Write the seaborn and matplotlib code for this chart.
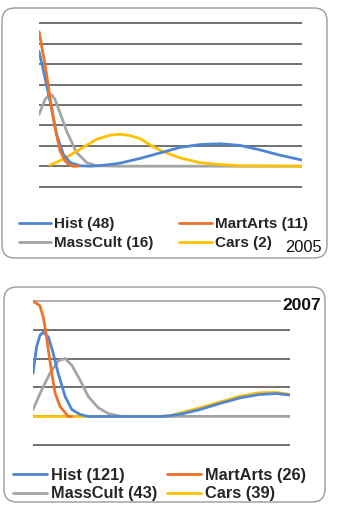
import pandas as pd
import matplotlib
matplotlib.use("Agg")
import matplotlib.pyplot as plt
from matplotlib.patches import FancyBboxPatch
import seaborn as sns

sns.set_style("white")
plt.rcParams["font.family"] = ["Liberation Sans", "DejaVu Sans"]

# -------------------------
# Data (x = position along the plot, 0..100)
# -------------------------
names = ["Hist", "MartArts", "MassCult", "Cars"]
counts_2005 = [48, 11, 16, 2]
counts_2007 = [121, 26, 43, 39]
colors = {"Hist": "#4F86D3", "MartArts": "#EF7229", "MassCult": "#A5A5A5", "Cars": "#FFC000"}

# 2005
hist05_x = [0, 2.3, 4.2, 6.7, 9.2, 11.8, 15.6, 19.4, 23.2, 27.0, 30.8, 38.4, 46.0, 53.6, 61.2, 68.8, 76.4, 84.0, 91.6, 100]
hist05_y = [5.63, 4.33, 3.19, 1.56, 0.59, 0.18, 0.02, 0.0, 0.03, 0.08, 0.15, 0.38, 0.65, 0.92, 1.06, 1.1, 1.02, 0.8, 0.54, 0.3]
mart05_x = [0, 2.3, 4.2, 6.1, 8.0, 9.9, 11.4, 12.9, 15.0]
mart05_y = [6.6, 4.98, 3.35, 1.89, 0.75, 0.26, 0.08, 0.0, 0.0]
mass05_x = [0, 2.3, 3.5, 4.8, 6.0, 7.3, 10.5, 14.3, 18.1, 21.9, 30, 100]
mass05_y = [2.54, 3.27, 3.45, 3.51, 3.3, 2.86, 1.72, 0.67, 0.18, 0.02, 0.0, 0.0]
cars05_x = [4.2, 9.2, 15.6, 21.9, 27.0, 30.8, 34.6, 38.4, 42.2, 46.0, 53.6, 61.2, 68.8, 76.4, 100]
cars05_y = [0.05, 0.34, 0.83, 1.32, 1.52, 1.57, 1.5, 1.35, 1.05, 0.78, 0.41, 0.17, 0.08, 0.02, 0.0]

# 2007
hist07_x = [0, 1.4, 2.7, 4.0, 6.0, 7.9, 9.8, 12.5, 15.1, 18.3, 21.5, 49.4, 52.9, 58.5, 65.0, 72.8, 80.5, 88.3, 94.8, 100]
hist07_y = [1.49, 2.4, 2.8, 2.91, 2.74, 2.17, 1.49, 0.69, 0.24, 0.07, 0.0, 0.0, 0.02, 0.1, 0.24, 0.45, 0.64, 0.76, 0.79, 0.74]
mart07_x = [0, 1.4, 2.7, 4.0, 4.9, 6.0, 7.3, 8.6, 10.5, 12.5, 13.7, 15.0]
mart07_y = [3.98, 3.9, 3.82, 3.42, 2.97, 2.28, 1.49, 0.81, 0.35, 0.13, 0.0, 0.0]
mass07_x = [0, 3.4, 6.6, 9.8, 12.5, 15.1, 18.3, 21.5, 25.4, 29.3, 34.5, 100]
mass07_y = [0.24, 0.92, 1.49, 1.92, 2.0, 1.77, 1.26, 0.69, 0.3, 0.1, 0.0, 0.0]
cars07_x = [0, 49.4, 53.5, 58.5, 65.0, 72.8, 80.5, 88.3, 94.8, 100]
cars07_y = [0.0, 0.0, 0.03, 0.15, 0.3, 0.5, 0.7, 0.82, 0.83, 0.76]

years = ["2005", "2007"]


def long_frame(series):
    rows = []
    for name, xs, ys in series:
        for x, y in zip(xs, ys):
            rows.append({"series": name, "x": x, "y": y})
    return pd.DataFrame(rows)


df05 = long_frame([("Hist", hist05_x, hist05_y), ("MartArts", mart05_x, mart05_y),
                   ("MassCult", mass05_x, mass05_y), ("Cars", cars05_x, cars05_y)])
df07 = long_frame([("Hist", hist07_x, hist07_y), ("MartArts", mart07_x, mart07_y),
                   ("MassCult", mass07_x, mass07_y), ("Cars", cars07_x, cars07_y)])

# -------------------------
# Figure
# -------------------------
W, H = 339, 511
fig = plt.figure(figsize=(W / 100, H / 100), dpi=100)


def px_axes(x0, y0, x1, y1):
    return fig.add_axes([x0 / W, 1 - y1 / H, (x1 - x0) / W, (y1 - y0) / H])


def box(x0, y0, x1, y1):
    p = FancyBboxPatch((x0 / 100, (H - y1) / 100), (x1 - x0) / 100, (y1 - y0) / 100,
                       boxstyle="round,pad=0,rounding_size=0.13",
                       transform=fig.dpi_scale_trans, facecolor="white",
                       edgecolor="#9a9a9a", linewidth=1.0, zorder=-5)
    fig.patches.append(p)


box(2, 8, 327, 258)
box(4, 287, 325, 502)

# draw order: later on top
draw_order = ["MassCult", "Cars", "Hist", "MartArts"]
legend_order = ["Hist", "MassCult", "MartArts", "Cars"]

panels = [
    (df05, counts_2005, (39, 23, 302, 187), (-1, 7), 11, (19, 217), 1.7, 0.32),
    (df07, counts_2007, (33, 300, 290, 446), (-1, 4), 11.8, (13, 468), 0.6, 0.2),
]

for i, (df, counts, rect, ylim, fs, leg_xy, colsp, lsp) in enumerate(panels):
    ax = px_axes(*rect)
    ax.patch.set_visible(False)
    sns.lineplot(data=df, x="x", y="y", hue="series", hue_order=draw_order,
                 palette=colors, linewidth=2.0, ax=ax, zorder=3)
    ax.set_xlim(0, 100)
    ax.set_ylim(ylim[0] - 0.02, ylim[1] + 0.02)
    ax.axis("off")

    # horizontal gridlines
    grid_vals = list(range(ylim[0], ylim[1] + 1))
    grid_cols = ["#9a9a9a" if (i == 1 and v == ylim[1]) else "#4a4a4a" for v in grid_vals]
    ax.hlines(grid_vals, 0, 100, colors=grid_cols, linewidth=1.1, zorder=1, clip_on=False)

    # legend: two columns, Hist/MassCult left, MartArts/Cars right
    handles, labels = ax.get_legend_handles_labels()
    ax.get_legend().remove()
    lookup = dict(zip(labels, handles))
    lab = {n: f"{n} ({k})" for n, k in zip(names, counts)}
    ax.legend([lookup[n] for n in legend_order], [lab[n] for n in legend_order],
              ncol=2, loc="upper left", bbox_to_anchor=(leg_xy[0] / W, 1 - leg_xy[1] / H),
              bbox_transform=fig.transFigure, frameon=False, borderpad=0, borderaxespad=0,
              handlelength=2.1, handletextpad=0.2, columnspacing=colsp, labelspacing=lsp,
              prop={"weight": "bold", "size": fs})

fig.text(322 / W, 1 - 247 / H, years[0], ha="right", va="center", fontsize=11.8, color="#111111")
fig.text(321 / W, 1 - 305.5 / H, years[1], ha="right", va="center", fontsize=12.5,
         fontweight="bold", color="#111111",
         bbox=dict(facecolor="white", edgecolor="none", pad=1))

plt.savefig("out.png", dpi=100)
